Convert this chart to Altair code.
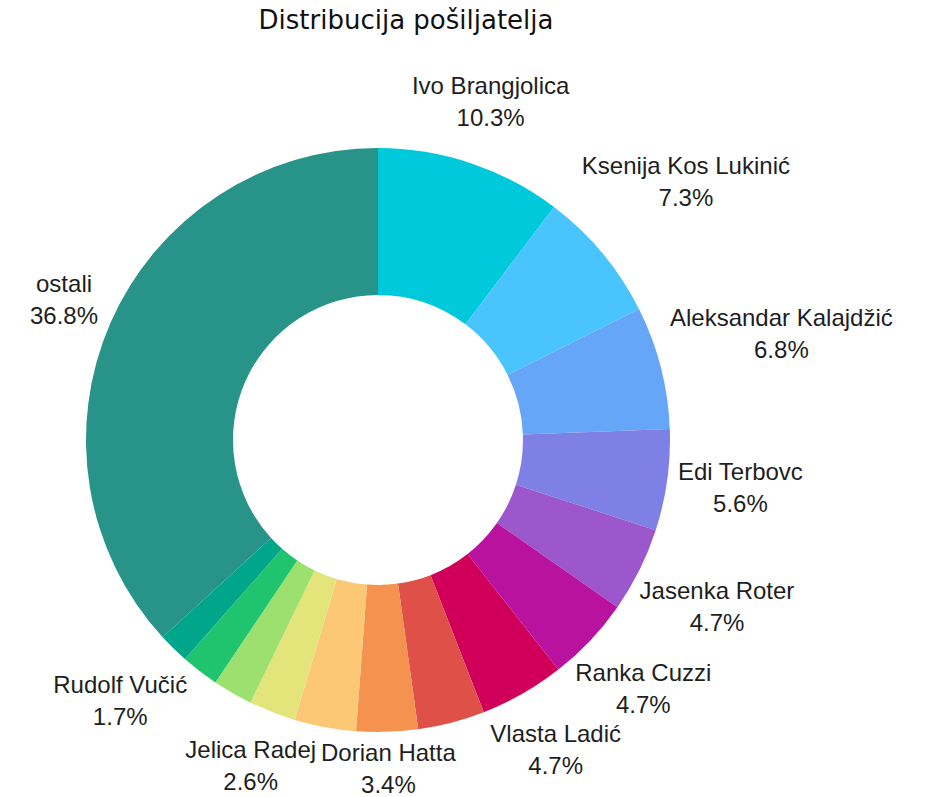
import altair as alt
import pandas as pd

# ---- data ----
names = [
    "Ivo Brangjolica", "Ksenija Kos Lukinić", "Aleksandar Kalajdžić", "Edi Terbovc",
    "Jasenka Roter", "Ranka Cuzzi", "Vlasta Ladić", "Pošiljatelj 8", "Dorian Hatta",
    "Pošiljatelj 10", "Jelica Radej", "Pošiljatelj 12", "Pošiljatelj 13", "Rudolf Vučić", "ostali",
]
shares = [10.3, 7.3, 6.8, 5.6, 4.7, 4.7, 4.7, 3.7, 3.4, 3.4, 2.6, 2.2, 2.1, 1.7, 36.8]
label_shown = [True, True, True, True, True, True, True, False, True, False, True, False, False, True, True]
colors = [
    "#00c9db", "#49c4fc", "#66a6f8", "#7e80e6", "#9b57cb", "#b9129e", "#d0005a", "#df5048",
    "#f59250", "#fdc876", "#e3e57a", "#9ce06f", "#20c46e", "#00a689", "#279389",
]
title_text = "Distribucija pošiljatelja"

df = pd.DataFrame({
    "name": names,
    "value": shares,
    "shown": label_shown,
    "idx": list(range(len(names))),
})

W, H = 756, 714
R_OUT = 292
R_IN = 145

arcs = alt.Chart(df).mark_arc(outerRadius=R_OUT, innerRadius=R_IN).encode(
    theta=alt.Theta("value:Q", stack=True),
    order=alt.Order("idx:Q"),
    color=alt.Color(
        "name:N",
        scale=alt.Scale(domain=names, range=colors),
        legend=None,
    ),
)

lab = alt.Chart(df).transform_window(
    cum="sum(value)", sort=[alt.SortField("idx")]
).transform_joinaggregate(
    total="sum(value)"
).transform_filter(
    "datum.shown"
).transform_calculate(
    pct="format(datum.value, '.1f') + '%'",
).transform_calculate(
    mid="2*PI*(datum.cum - datum.value/2)/datum.total",
).transform_calculate(
    r=f"{R_OUT} + 9 + max(length(datum.name)*5.6, length(datum.pct)*6.6)*abs(sin(datum.mid)) + 28*abs(cos(datum.mid))"
).transform_calculate(
    lx=f"{W/2} + datum.r*sin(datum.mid)",
    ly=f"{H/2} - datum.r*cos(datum.mid)",
)

name_text = lab.mark_text(
    font="Liberation Sans", fontSize=24, color="#1e1e1e", align="center", baseline="middle", dy=-17
).encode(
    x=alt.X("lx:Q", scale=None, axis=None),
    y=alt.Y("ly:Q", scale=None, axis=None),
    text="name:N",
)
pct_text = lab.mark_text(
    font="Liberation Sans", fontSize=24, color="#1e1e1e", align="center", baseline="middle", dy=15
).encode(
    x=alt.X("lx:Q", scale=None, axis=None),
    y=alt.Y("ly:Q", scale=None, axis=None),
    text="pct:N",
)

chart = alt.layer(arcs, name_text, pct_text).properties(
    width=W,
    height=H,
    padding={"top": 83, "left": 0, "right": 170, "bottom": 0},
    autosize=alt.AutoSizeParams(type="none"),
    background="white",
    title=alt.TitleParams(
        title_text,
        font="DejaVu Sans",
        fontSize=26,
        fontWeight="normal",
        color="#111111",
        anchor="middle",
        frame="group",
        baseline="alphabetic",
        offset=20,
        dx=28,
    ),
).configure_view(strokeWidth=0, stroke="transparent")

chart.save("out.html", embed_options={"renderer": "svg", "actions": False})
